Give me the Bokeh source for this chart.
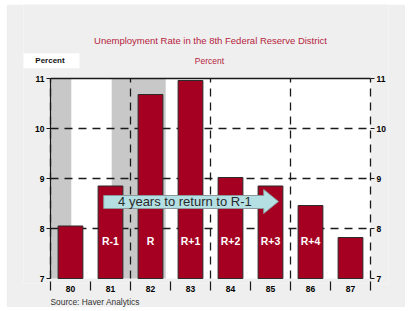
from bokeh.plotting import figure
from bokeh.models import (FixedTicker, LinearAxis, Label, Title, Range1d, ColumnDataSource)
from bokeh.core.properties import value
from bokeh.embed import file_html
from bokeh.resources import INLINE

# ---- data ----
years = [80, 81, 82, 83, 84, 85, 86, 87]
year_labels = ["80", "81", "82", "83", "84", "85", "86", "87"]
rates = [8.05, 8.85, 10.68, 10.96, 9.02, 8.85, 8.46, 7.82]
bar_labels = ["", "R-1", "R", "R+1", "R+2", "R+3", "R+4", ""]
recession_start = [79.5, 81.03]
recession_end = [80.02, 82.38]
y_ticks = [7, 8, 9, 10, 11]
h_grid = [8, 9, 10]
v_grid = [79.5, 81.5, 83.5, 85.5, 87.5]
x_bounds = [79.5, 80.5, 81.5, 82.5, 83.5, 84.5, 85.5, 86.5, 87.5]
arrow_text = "4 years to return to R-1"
arrow_x = [80.83, 84.83, 84.83, 85.2, 84.83, 84.83, 80.83]
arrow_y = [8.66, 8.66, 8.78, 8.54, 8.30, 8.40, 8.40]
title_text = "Unemployment Rate in the 8th Federal Reserve District"
unit_text = "Percent"
source_text = "Source: Haver Analytics"

FONT = "Liberation Sans"
RED = "#b5233d"
BG = "#efefef"
INK = "#1a1a1a"
X0, X1 = 79.5, 87.5
Y0, Y1 = 7, 11

p = figure(width=399, height=303, output_backend="svg", toolbar_location=None,
           x_range=Range1d(78.825, 87.95), y_range=Range1d(6.9, 12.48),
           min_border_left=17, min_border_right=17, min_border_top=0,
           min_border_bottom=24, x_axis_location=None, y_axis_location=None)
p.margin = (4, 4, 4, 6)
p.background_fill_color = BG
p.border_fill_color = BG
p.outline_line_color = None
p.grid.visible = False

# plot area and recession shading
pa = p.quad(left=X0, right=X1, bottom=Y0, top=Y1, fill_color="white", line_color=None)
pa.level = "image"
sh = p.quad(left=recession_start, right=recession_end, top=Y1, bottom=Y0,
            fill_color="#c8c8c8", line_color=None)
sh.level = "image"

# dashed grid
p.segment(x0=X0, x1=X1, y0=h_grid, y1=h_grid, line_color=INK, line_width=1.3,
          line_dash="8 6")
p.segment(x0=v_grid, x1=v_grid, y0=Y0, y1=Y1, line_color=INK, line_width=1.3,
          line_dash="8 6")
# top border
p.segment(x0=X0, x1=X1, y0=Y1, y1=Y1, line_color=INK, line_width=1.3)

# bars
src = ColumnDataSource(dict(x=years, top=rates, lab=bar_labels,
                            ly=[7.76] * len(years)))
p.vbar(x="x", top="top", bottom=Y0, width=0.62, source=src,
       fill_color="#a50021", line_color="#2b2b2b", line_width=1)
p.text(x="x", y="ly", text="lab", source=src, text_color="white",
       text_font=value(FONT), text_font_style="bold", text_font_size="10.5px",
       text_align="center", text_baseline="middle")

# arrow
p.patch(x=arrow_x, y=arrow_y, fill_color="#b4e0e4", line_color="#8a9a9c", line_width=1)
p.add_layout(Label(x=82.86, y=8.54, text=arrow_text, text_font=FONT,
                   text_font_size="13px", text_color="#2a2a2a",
                   text_align="center", text_baseline="middle"))

# header texts
p.add_layout(Label(x=83.5, y=11.76, text=title_text, text_font=FONT,
                   text_font_size="9.5px", text_color=RED,
                   text_align="center", text_baseline="middle"))
p.add_layout(Label(x=83.475, y=11.36, text=unit_text, text_font=FONT,
                   text_font_size="8.5px", text_color=RED,
                   text_align="center", text_baseline="middle"))
p.quad(left=78.75, right=80.225, bottom=11.206, top=11.506,
       fill_color="white", line_color=None)
p.add_layout(Label(x=79.4875, y=11.36, text=unit_text, text_font=FONT,
                   text_font_size="8px", text_font_style="bold",
                   text_color="#111111", text_align="center", text_baseline="middle"))


# axes
def style_y(ax):
    ax.ticker = FixedTicker(ticks=y_ticks)
    ax.bounds = (Y0, Y1)
    ax.major_label_text_font = FONT
    ax.major_label_text_font_style = "bold"
    ax.major_label_text_font_size = "8.5px"
    ax.major_label_text_color = "black"
    ax.major_tick_out = 4
    ax.major_tick_in = 0
    ax.minor_tick_line_color = None
    ax.major_label_standoff = 2
    ax.major_tick_line_color = INK


yl = LinearAxis(fixed_location=X0)
style_y(yl)
yl.axis_line_color = INK
yl.axis_line_width = 1.2
p.add_layout(yl, "left")

yr = LinearAxis(fixed_location=X1)
style_y(yr)
yr.axis_line_color = None
p.add_layout(yr, "right")

xa = LinearAxis()
xa.ticker = FixedTicker(ticks=years, minor_ticks=x_bounds)
xa.major_label_overrides = {y: l for y, l in zip(years, year_labels)}
xa.major_tick_line_color = None
xa.major_tick_out = 0
xa.major_tick_in = 0
xa.minor_tick_line_color = INK
xa.minor_tick_line_width = 1.2
xa.minor_tick_out = 7
xa.minor_tick_in = 2
xa.axis_line_color = None
xa.major_label_standoff = -5
xa.major_label_text_font = FONT
xa.major_label_text_font_style = "bold"
xa.major_label_text_font_size = "8.5px"
xa.major_label_text_color = "black"
p.add_layout(xa, "below")

p.add_layout(Title(text=source_text, align="left", offset=27, standoff=0,
                   text_font=FONT, text_font_size="8.4px",
                   text_font_style="normal", text_color="#333333"), "below")

open("out.html", "w").write(file_html(p, INLINE))
